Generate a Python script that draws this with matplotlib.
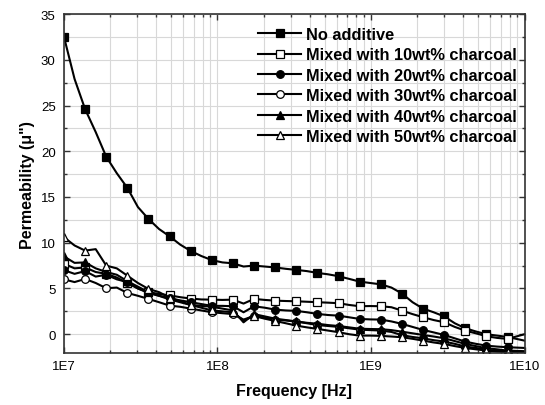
import math
import matplotlib
matplotlib.use('Agg')
import matplotlib.pyplot as plt
from matplotlib.ticker import FixedLocator, FuncFormatter, LogLocator, MultipleLocator

plt.rcParams['font.family'] = ['Liberation Sans', 'DejaVu Sans']

# Frequency points (Hz)
freq = [1.000e7, 1.172e7, 1.373e7, 1.609e7, 1.885e7, 2.208e7, 2.587e7, 3.031e7, 3.551e7,
        4.161e7, 4.875e7, 5.711e7, 6.691e7, 7.840e7, 9.188e7, 1.076e8, 1.261e8, 1.478e8,
        1.731e8, 2.029e8, 2.377e8, 2.785e8, 3.263e8, 3.823e8, 4.479e8, 5.248e8, 6.149e8,
        7.204e8, 8.440e8, 9.890e8, 1.159e9, 1.358e9, 1.591e9, 1.864e9, 2.184e9, 2.559e9,
        2.998e9, 3.513e9, 4.116e9, 4.822e9, 5.649e9, 6.619e9, 7.755e9, 1.000e10]

no_additive = [32.5, 27.9, 24.6, 22.1, 19.4, 17.6, 16.0, 13.9, 12.6, 11.5, 10.7, 9.8, 9.1,
               8.55, 8.1, 7.85, 7.75, 7.4, 7.5, 7.4, 7.3, 7.15, 7.03, 6.9, 6.7, 6.55, 6.34,
               6.05, 5.75, 5.6, 5.45, 5.1, 4.45, 3.5, 2.8, 2.4, 1.95, 1.2, 0.65, 0.3, 0.0,
               -0.15, -0.3, -0.7]
wt10 = [7.7, 7.2, 7.3, 6.8, 6.6, 6.2, 5.6, 5.0, 4.6, 4.4, 4.25, 4.05, 3.9, 3.8, 3.78, 3.75,
        3.78, 3.35, 3.86, 3.75, 3.67, 3.63, 3.6, 3.55, 3.5, 3.45, 3.39, 3.2, 3.06, 3.08, 3.06,
        2.95, 2.58, 2.2, 1.86, 1.55, 1.31, 0.8, 0.39, 0.1, -0.22, -0.4, -0.51, 0.0]
wt20 = [7.0, 6.6, 6.9, 6.3, 6.5, 6.0, 5.7, 5.0, 4.5, 4.2, 3.95, 3.7, 3.5, 3.3, 3.1, 3.1,
        3.06, 2.4, 3.05, 2.9, 2.69, 2.6, 2.55, 2.4, 2.22, 2.1, 2.03, 1.85, 1.67, 1.62, 1.6,
        1.4, 1.13, 0.8, 0.47, 0.2, -0.08, -0.45, -0.81, -1.05, -1.25, -1.35, -1.42, -1.5]
wt30 = [6.0, 5.7, 6.04, 5.6, 5.03, 5.1, 4.51, 4.2, 3.86, 3.5, 3.13, 3.0, 2.8, 2.6, 2.4, 2.3,
        2.2, 1.6, 2.0, 1.8, 1.6, 1.5, 1.38, 1.2, 1.0, 0.9, 0.8, 0.65, 0.5, 0.45, 0.4, 0.25,
        -0.1, -0.3, -0.45, -0.65, -0.8, -1.05, -1.35, -1.5, -1.7, -1.8, -1.9, -1.95]
wt40 = [8.5, 7.8, 7.85, 7.2, 6.8, 6.5, 5.8, 5.2, 4.6, 4.2, 3.8, 3.5, 3.2, 3.1, 3.0, 2.8,
        2.6, 1.3, 2.2, 1.95, 1.7, 1.55, 1.4, 1.25, 1.15, 1.0, 0.9, 0.75, 0.6, 0.57, 0.55,
        0.45, 0.28, 0.1, -0.08, -0.25, -0.44, -0.75, -1.06, -1.3, -1.53, -1.65, -1.79, -1.85]
wt50 = [10.6, 9.7, 9.14, 9.3, 7.5, 7.2, 6.4, 5.6, 4.95, 4.6, 4.0, 3.6, 3.2, 2.9, 2.6, 2.5,
        2.4, 1.5, 2.0, 1.7, 1.45, 1.2, 0.94, 0.75, 0.58, 0.4, 0.22, 0.0, -0.15, -0.15, -0.18,
        -0.25, -0.33, -0.5, -0.7, -0.9, -1.06, -1.3, -1.5, -1.65, -1.79, -1.9, -1.97, -2.05]

series = [
    (no_additive, 's', 'black', 'No additive'),
    (wt10, 's', 'white', 'Mixed with 10wt% charcoal'),
    (wt20, 'o', 'black', 'Mixed with 20wt% charcoal'),
    (wt30, 'o', 'white', 'Mixed with 30wt% charcoal'),
    (wt40, '^', 'black', 'Mixed with 40wt% charcoal'),
    (wt50, '^', 'white', 'Mixed with 50wt% charcoal'),
]

fig = plt.figure(figsize=(5.45, 4.06), dpi=100)
ax = fig.add_axes([0.1174, 0.127, 0.845, 0.836])

marks = list(range(0, 43, 2))
for vals, m, fc, lab in series:
    ax.plot(freq, vals, color='black', lw=1.5, marker=m, markersize=5.5,
            markerfacecolor=fc, markeredgecolor='black', markeredgewidth=0.9,
            markevery=marks, label=lab)

ax.set_xscale('log')
ax.set_xlim(1e7, 1e10)
ax.set_ylim(-2.1, 35)

ax.xaxis.set_major_locator(FixedLocator([1e7, 1e8, 1e9, 1e10]))
ax.xaxis.set_major_formatter(FuncFormatter(lambda v, p: '1E%d' % round(math.log10(v))))
ax.xaxis.set_minor_locator(LogLocator(base=10, subs=range(2, 10)))
ax.xaxis.set_minor_formatter(FuncFormatter(lambda v, p: ''))
ax.yaxis.set_major_locator(MultipleLocator(5))
ax.yaxis.set_minor_locator(MultipleLocator(2.5))

ax.grid(True, which='both', color='#d8d8d8', lw=0.8)
ax.set_axisbelow(True)

ax.tick_params(which='both', direction='in', top=True, right=True, labelsize=9.5,
               color='#333333', width=1.0)
ax.tick_params(which='major', length=4)
ax.tick_params(which='minor', length=2.5)
ax.tick_params(axis='y', pad=6)
ax.tick_params(axis='x', pad=5)
for s in ax.spines.values():
    s.set_color('#333333')
    s.set_linewidth(1.2)

ax.set_xlabel('Frequency [Hz]', fontsize=11.5, fontweight='bold', labelpad=8)
ax.set_ylabel('Permeability (\u03bc")', fontsize=11.5, fontweight='bold', labelpad=4)

ax.legend(loc='upper right', bbox_to_anchor=(0.983, 0.962), frameon=False,
          prop={'weight': 'bold', 'size': 11.8}, numpoints=1, handlelength=2.6,
          handletextpad=0.3, labelspacing=0.33, borderpad=0, borderaxespad=0)

fig.savefig('out.png', dpi=100)
